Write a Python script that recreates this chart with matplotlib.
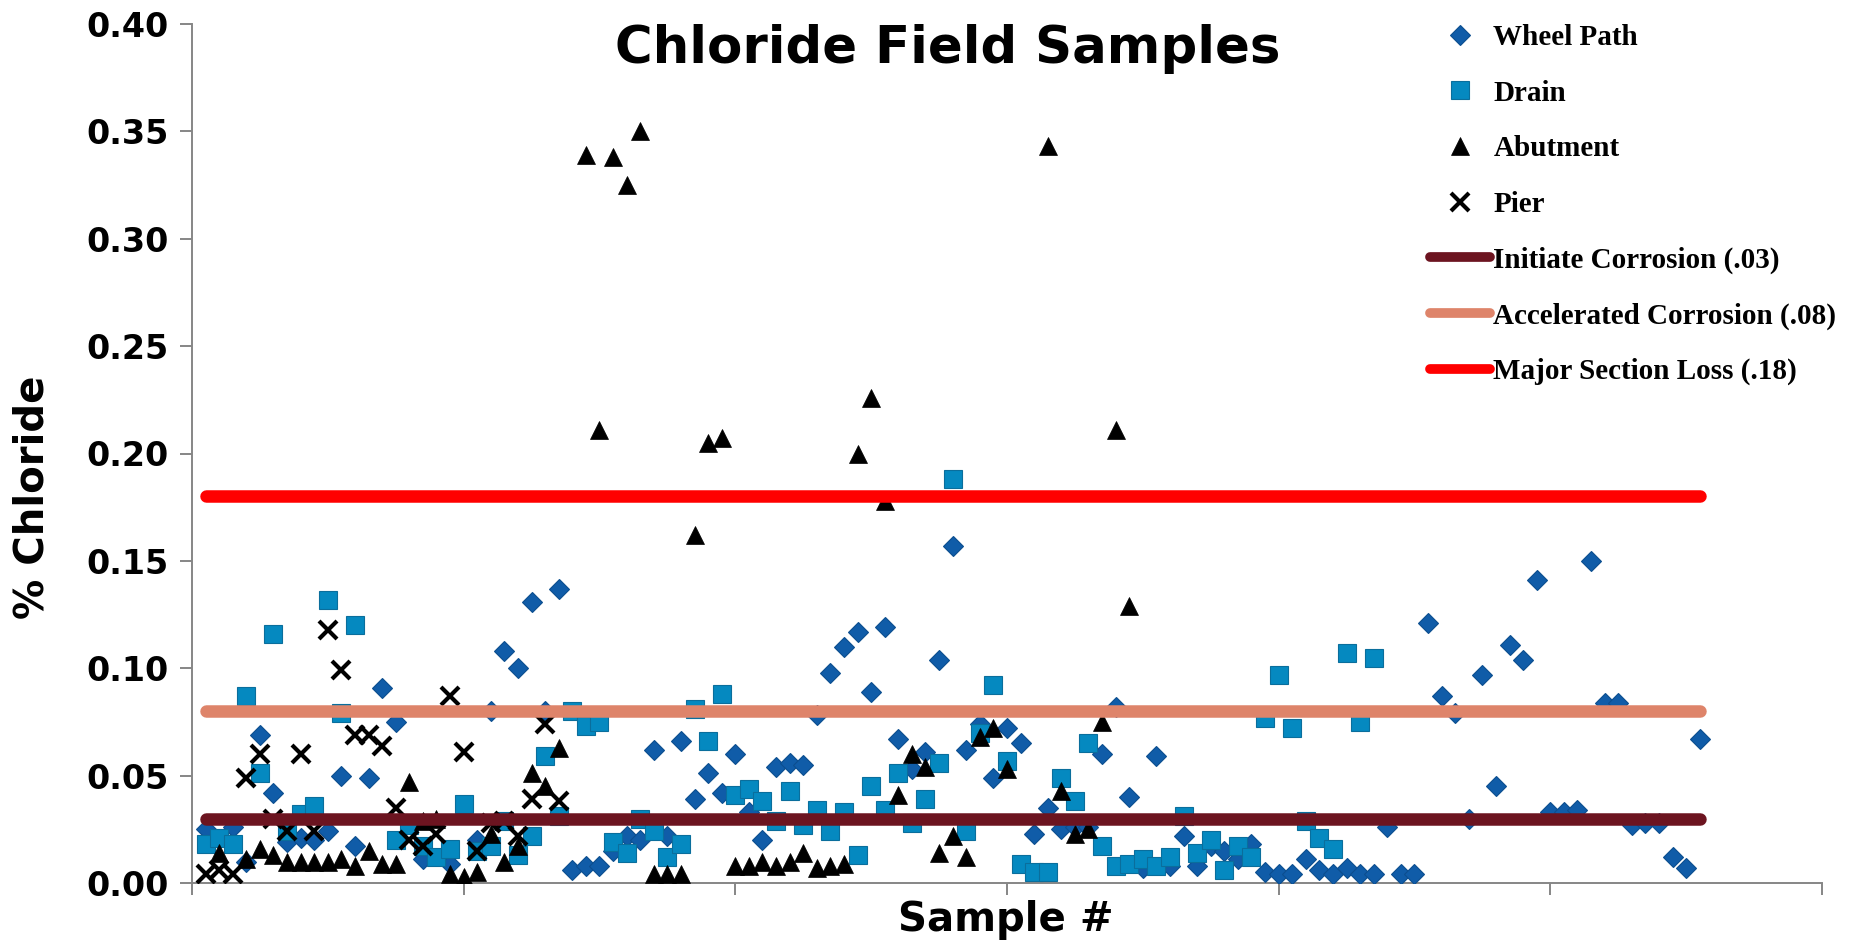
import matplotlib
matplotlib.use("Agg")
import matplotlib.pyplot as plt

# ---------------- data ----------------
wp_x = [1, 3, 4, 5, 6, 7, 8, 9, 10, 11, 12, 13, 14, 15, 17, 19, 21, 22, 23, 24,
        25, 26, 27, 28, 29, 30, 31, 32, 33, 34, 35, 36, 37, 38, 39, 40, 41, 42, 43, 44,
        45, 46, 47, 48, 49, 50, 51, 52, 53, 54, 55, 56, 57, 58, 59, 60, 61, 62, 63, 64,
        65, 66, 67, 68, 69, 70, 71, 72, 73, 74, 75, 76, 77, 78, 79, 80, 81, 82, 83, 84,
        85, 86, 87, 88, 89, 90, 91, 92, 93, 94, 95, 96, 97, 98, 99, 100, 101, 102, 103, 104,
        105, 106, 107, 108, 109, 110, 111]
wp_y = [0.025, 0.026, 0.010, 0.069, 0.042, 0.019, 0.021, 0.020, 0.024, 0.050, 0.017, 0.049, 0.091, 0.075, 0.011, 0.009, 0.020, 0.080, 0.108, 0.100,
        0.131, 0.080, 0.137, 0.006, 0.008, 0.008, 0.015, 0.022, 0.020, 0.062, 0.022, 0.066, 0.039, 0.051, 0.042, 0.060, 0.033, 0.020, 0.054, 0.056,
        0.055, 0.078, 0.098, 0.110, 0.117, 0.089, 0.119, 0.067, 0.053, 0.061, 0.104, 0.157, 0.062, 0.074, 0.049, 0.072, 0.065, 0.023, 0.035, 0.025,
        0.026, 0.026, 0.060, 0.082, 0.040, 0.007, 0.059, 0.008, 0.022, 0.008, 0.017, 0.015, 0.011, 0.018, 0.005, 0.004, 0.004, 0.011, 0.006, 0.004,
        0.007, 0.004, 0.004, 0.026, 0.004, 0.004, 0.121, 0.087, 0.079, 0.030, 0.097, 0.045, 0.111, 0.104, 0.141, 0.033, 0.033, 0.034, 0.150, 0.084,
        0.084, 0.027, 0.028, 0.028, 0.012, 0.007, 0.067]

drain_x = [1, 2, 3, 4, 5, 6, 7, 8, 9, 10, 11, 12, 15, 16, 17, 18, 19, 20, 21, 22,
           23, 24, 25, 26, 27, 28, 29, 30, 31, 32, 33, 34, 35, 36, 37, 38, 39, 40, 41, 42,
           43, 44, 45, 46, 47, 48, 49, 50, 51, 52, 53, 54, 55, 56, 57, 58, 59, 60, 61, 62,
           63, 64, 65, 66, 67, 68, 69, 70, 71, 72, 73, 74, 75, 76, 77, 78, 79, 80, 81, 82,
           83, 84, 85, 86, 87]
drain_y = [0.018, 0.021, 0.018, 0.087, 0.051, 0.116, 0.024, 0.032, 0.036, 0.132, 0.079, 0.120, 0.020, 0.027, 0.017, 0.012, 0.016, 0.037, 0.015, 0.017,
           0.029, 0.013, 0.022, 0.059, 0.031, 0.080, 0.073, 0.075, 0.019, 0.014, 0.030, 0.024, 0.012, 0.018, 0.081, 0.066, 0.088, 0.041, 0.044, 0.038,
           0.029, 0.043, 0.027, 0.034, 0.024, 0.033, 0.013, 0.045, 0.034, 0.051, 0.028, 0.039, 0.056, 0.188, 0.024, 0.070, 0.092, 0.057, 0.009, 0.005,
           0.005, 0.049, 0.038, 0.065, 0.017, 0.008, 0.009, 0.011, 0.008, 0.012, 0.031, 0.014, 0.020, 0.006, 0.017, 0.012, 0.077, 0.097, 0.072, 0.029,
           0.021, 0.016, 0.107, 0.075, 0.105]

abut_x = [2, 4, 5, 6, 7, 8, 9, 10, 11, 12, 13, 14, 15, 16, 17, 18, 19, 20, 21, 22,
          23, 24, 25, 26, 27, 29, 30, 31, 32, 33, 34, 35, 36, 37, 38, 39, 40, 41, 42, 43,
          44, 45, 46, 47, 48, 49, 50, 51, 52, 53, 54, 55, 56, 57, 58, 59, 60, 63, 64, 65,
          66, 67, 68, 69]
abut_y = [0.014, 0.011, 0.016, 0.013, 0.010, 0.010, 0.010, 0.010, 0.011, 0.008, 0.015, 0.009, 0.009, 0.047, 0.029, 0.030, 0.004, 0.003, 0.005, 0.023,
          0.010, 0.017, 0.051, 0.045, 0.063, 0.339, 0.211, 0.338, 0.325, 0.350, 0.004, 0.004, 0.004, 0.162, 0.205, 0.207, 0.008, 0.008, 0.010, 0.008,
          0.010, 0.014, 0.007, 0.008, 0.009, 0.200, 0.226, 0.178, 0.041, 0.060, 0.054, 0.014, 0.022, 0.012, 0.068, 0.072, 0.053, 0.343, 0.043, 0.023,
          0.025, 0.075, 0.211, 0.129]

pier_x = [1, 2, 3, 4, 5, 6, 7, 8, 9, 10, 11, 12, 13, 14, 15, 16, 17, 18, 19, 20,
          21, 22, 23, 24, 25, 26, 27]
pier_y = [0.004, 0.006, 0.004, 0.049, 0.060, 0.030, 0.024, 0.060, 0.024, 0.118, 0.099, 0.069, 0.069, 0.064, 0.035, 0.020, 0.017, 0.023, 0.087, 0.061,
          0.015, 0.028, 0.029, 0.022, 0.039, 0.074, 0.038]

threshold_names = ["Initiate Corrosion (.03)", "Accelerated Corrosion (.08)", "Major Section Loss (.18)"]
threshold_values = [0.03, 0.08, 0.18]
threshold_span = [1, 111]

y_ticks = [0.00, 0.05, 0.10, 0.15, 0.20, 0.25, 0.30, 0.35, 0.40]
x_ticks = [0, 20, 40, 60, 80, 100, 120]

# ---------------- figure ----------------
W, H, DPI = 1856, 944, 100
fig = plt.figure(figsize=(W / DPI, H / DPI), dpi=DPI)
fig.patch.set_facecolor("white")
ax = fig.add_axes([192 / W, 1 - 883 / H, (1822 - 192) / W, (883 - 24) / H])
ax.set_facecolor("none")

wp_col = "#105CA8"
dr_col = "#0589C0"

ax.plot(wp_x, wp_y, linestyle="none", marker="D", ms=10, mfc=wp_col, mec="#0C4E8F",
        mew=0.8, label="Wheel Path", zorder=3)
ax.plot(drain_x, drain_y, linestyle="none", marker="s", ms=13.5, mfc=dr_col, mec="#0A6E9C",
        mew=0.8, label="Drain", zorder=4)
ax.plot(abut_x, abut_y, linestyle="none", marker="^", ms=13, mfc="black", mec="black",
        mew=0.5, label="Abutment", zorder=5)
ax.plot(pier_x, pier_y, linestyle="none", marker="x", ms=13.5, mec="black",
        mew=3.0, label="Pier", zorder=6)

line_cols = ["#6C1420", "#DE846A", "#FF0000"]
for name, val, col in zip(threshold_names, threshold_values, line_cols):
    ax.plot(threshold_span, [val, val], color=col, lw=9, solid_capstyle="round",
            label=name, zorder=7)

ax.set_xlim(0, 120)
ax.set_ylim(0, 0.40)
ax.set_xticks(x_ticks)
ax.set_xticklabels([])
ax.set_yticks(y_ticks)
ax.set_yticklabels([f"{v:.2f}" for v in y_ticks])

for s in ["top", "right"]:
    ax.spines[s].set_visible(False)
for s in ["left", "bottom"]:
    ax.spines[s].set_color("#868686")
    ax.spines[s].set_linewidth(1.4)
ax.tick_params(axis="both", direction="out", length=8.5, width=1.4, color="#868686")
ax.tick_params(axis="y", labelsize=24, pad=8)
for lab in ax.get_yticklabels():
    lab.set_fontweight("bold")
    lab.set_family("DejaVu Sans")

fig.text(948 / W, 1 - 63 / H, "Chloride Field Samples", ha="center", va="baseline",
         fontsize=37, fontweight="bold", family="DejaVu Sans")
fig.text(1006 / W, 1 - 920 / H, "Sample #", ha="center", va="center",
         fontsize=29, fontweight="bold", family="DejaVu Sans")
fig.text(33 / W, 1 - 497 / H, "% Chloride", ha="center", va="center", rotation=90,
         fontsize=29, fontweight="bold", family="DejaVu Sans")

leg = ax.legend(loc="upper left", bbox_to_anchor=(1430 / W, 1 - 24 / H),
                bbox_transform=fig.transFigure, frameon=False, borderpad=0,
                borderaxespad=0, handlelength=2.05, handletextpad=0.12,
                labelspacing=0.98, numpoints=1,
                prop={"family": "Liberation Serif", "weight": "bold", "size": 21})
for h in leg.get_lines():
    if h.get_linestyle() not in ("None", "none", ""):
        h.set_linewidth(7)

fig.savefig("out.png", dpi=DPI)
